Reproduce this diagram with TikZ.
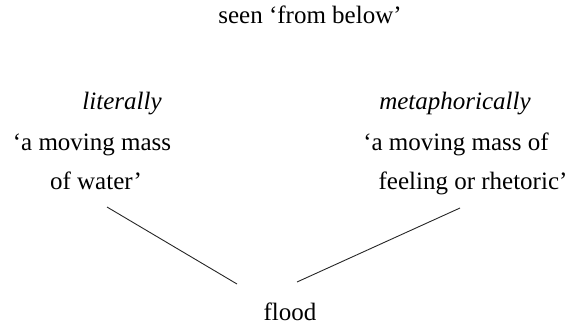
\documentclass[tikz,border=0pt]{standalone}
\usepackage{fontspec}
\setmainfont{Liberation Serif}
\usetikzlibrary{positioning}
\tikzset{
  gloss/.style={
    font=\fontsize{25}{30}\selectfont,
    inner sep=0pt, anchor=base,
  },
  sense/.style={
    gloss, font=\fontsize{25}{30}\selectfont\itshape,
  },
  link/.style={
    line width=0.9pt, color=black!85,
  },
}
\begin{document}
\begin{tikzpicture}[x=1pt,y=-1pt]
    \useasboundingbox (0,0) rectangle (567,325);
    \node[gloss] (view) at (310,23) {seen ‘from below’};
    % literal sense
    \node[sense] (lit) at (122,109) {literally};
    \node[gloss] (lita) at (92,150) {‘a moving mass};
    \node[gloss] (litb) at (96,189) {of water’};
    % metaphorical sense
    \node[sense] (meta) at (455,109) {metaphorically};
    \node[gloss] (metaa) at (456,150) {‘a moving mass of};
    \node[gloss] (metab) at (473,189) {feeling or rhetoric’};
    \node[gloss] (flood) at (290,320) {flood};
    \coordinate (litend) at (107,207);
    \coordinate (metaend) at (460,208);
    \coordinate (floodl) at (237,284);
    \coordinate (floodr) at (297,282);
    \draw[link](litend)--(floodl); \draw[link](metaend)--(floodr);
  \end{tikzpicture}
\end{document}
